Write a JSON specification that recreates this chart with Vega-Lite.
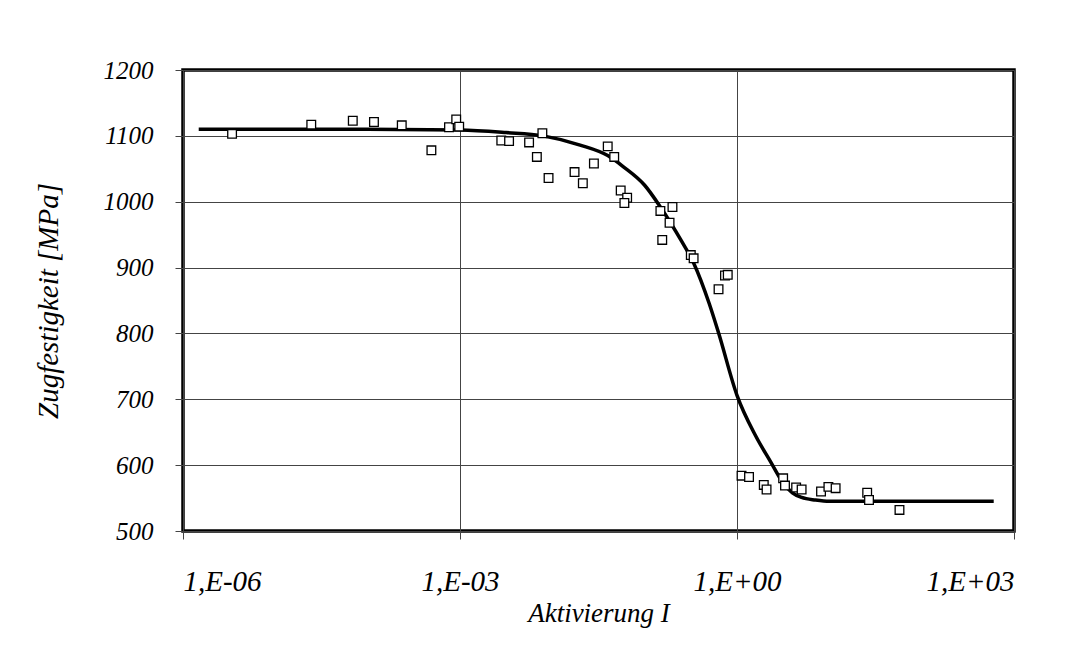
{
  "$schema": "https://vega.github.io/schema/vega-lite/v6.json",
  "autosize": "none",
  "width": 831,
  "height": 461,
  "padding": {"left": 183, "top": 70, "right": 56, "bottom": 119},
  "background": "white",
  "config": {
    "view": {"stroke": "black", "strokeWidth": 3.5},
    "font": "'Liberation Serif', 'DejaVu Serif', serif",
    "axis": {
      "labelFont": "'Liberation Serif', 'DejaVu Serif', serif",
      "labelFontStyle": "italic",
      "labelColor": "black",
      "titleFont": "'Liberation Serif', 'DejaVu Serif', serif",
      "titleFontStyle": "italic",
      "titleFontWeight": "normal",
      "titleColor": "black",
      "gridColor": "#444444",
      "gridWidth": 1,
      "gridOpacity": 1,
      "tickColor": "#444444",
      "tickSize": 8,
      "domain": false
    }
  },
  "datasets": {
    "points": [
      {"I": 3.4e-6, "Z": 1103},
      {"I": 2.45e-5, "Z": 1117},
      {"I": 6.9e-5, "Z": 1123},
      {"I": 1.17e-4, "Z": 1121},
      {"I": 2.34e-4, "Z": 1116},
      {"I": 4.9e-4, "Z": 1078},
      {"I": 7.6e-4, "Z": 1113},
      {"I": 9.1e-4, "Z": 1125},
      {"I": 9.8e-4, "Z": 1114},
      {"I": 2.8e-3, "Z": 1093},
      {"I": 3.4e-3, "Z": 1092},
      {"I": 5.6e-3, "Z": 1090},
      {"I": 7.8e-3, "Z": 1104},
      {"I": 6.8e-3, "Z": 1068},
      {"I": 9.1e-3, "Z": 1036},
      {"I": 0.0174, "Z": 1045},
      {"I": 0.0214, "Z": 1028},
      {"I": 0.0282, "Z": 1058},
      {"I": 0.0398, "Z": 1084},
      {"I": 0.0468, "Z": 1068},
      {"I": 0.055, "Z": 1017},
      {"I": 0.0646, "Z": 1006},
      {"I": 0.0603, "Z": 998},
      {"I": 0.148, "Z": 986},
      {"I": 0.2, "Z": 992},
      {"I": 0.186, "Z": 968},
      {"I": 0.155, "Z": 942},
      {"I": 0.316, "Z": 919},
      {"I": 0.339, "Z": 914},
      {"I": 0.741, "Z": 888},
      {"I": 0.794, "Z": 889},
      {"I": 0.631, "Z": 867},
      {"I": 1.12, "Z": 584},
      {"I": 1.35, "Z": 582},
      {"I": 1.95, "Z": 570},
      {"I": 2.09, "Z": 563},
      {"I": 3.16, "Z": 580},
      {"I": 3.31, "Z": 569},
      {"I": 4.37, "Z": 566},
      {"I": 5.01, "Z": 563},
      {"I": 8.13, "Z": 560},
      {"I": 9.77, "Z": 567},
      {"I": 11.7, "Z": 565},
      {"I": 25.7, "Z": 558},
      {"I": 26.9, "Z": 547},
      {"I": 57.5, "Z": 532}
    ],
    "curve": [
      {"I": 1.48e-6, "Z": 1110},
      {"I": 1e-4, "Z": 1110},
      {"I": 1e-3, "Z": 1109},
      {"I": 3.16e-3, "Z": 1105},
      {"I": 7.94e-3, "Z": 1100},
      {"I": 0.02, "Z": 1086},
      {"I": 0.0398, "Z": 1070},
      {"I": 0.0589, "Z": 1053},
      {"I": 0.1, "Z": 1025},
      {"I": 0.148, "Z": 992},
      {"I": 0.251, "Z": 940},
      {"I": 0.339, "Z": 907},
      {"I": 0.501, "Z": 845},
      {"I": 0.631, "Z": 801},
      {"I": 1, "Z": 706},
      {"I": 1.585, "Z": 645},
      {"I": 2.29, "Z": 606},
      {"I": 3.16, "Z": 573},
      {"I": 3.98, "Z": 558},
      {"I": 5.01, "Z": 551},
      {"I": 7.08, "Z": 547},
      {"I": 10, "Z": 545},
      {"I": 603, "Z": 545}
    ]
  },
  "layer": [
    {
      "data": {"name": "curve"},
      "mark": {"type": "line", "color": "black", "strokeWidth": 3.5, "interpolate": "monotone"},
      "encoding": {
        "x": {
          "field": "I", "type": "quantitative",
          "scale": {"type": "log", "domain": [1e-6, 1000], "nice": false},
          "axis": {
            "values": [1e-6, 1e-3, 1, 1000],
            "labelExpr": "datum.value < 1e-5 ? '1,E-06' : datum.value < 0.01 ? '1,E-03' : datum.value < 10 ? '1,E+00' : '1,E+03'",
            "labelFontSize": 29,
            "labelPadding": 28,
            "title": "Aktivierung I",
            "titleFontSize": 27,
            "titlePadding": 4
          }
        },
        "y": {
          "field": "Z", "type": "quantitative",
          "scale": {"domain": [500, 1200], "nice": false, "zero": false},
          "axis": {
            "values": [500, 600, 700, 800, 900, 1000, 1100, 1200],
            "format": "d",
            "labelFontSize": 25,
            "labelPadding": 22,
            "title": "Zugfestigkeit [MPa]",
            "titleFontSize": 29,
            "titlePadding": 40
          }
        }
      }
    },
    {
      "data": {"name": "points"},
      "mark": {"type": "point", "shape": "square", "filled": false, "fill": "white", "fillOpacity": 1, "stroke": "black", "strokeWidth": 1.3, "size": 75, "opacity": 1},
      "encoding": {
        "x": {"field": "I", "type": "quantitative"},
        "y": {"field": "Z", "type": "quantitative"}
      }
    }
  ]
}
